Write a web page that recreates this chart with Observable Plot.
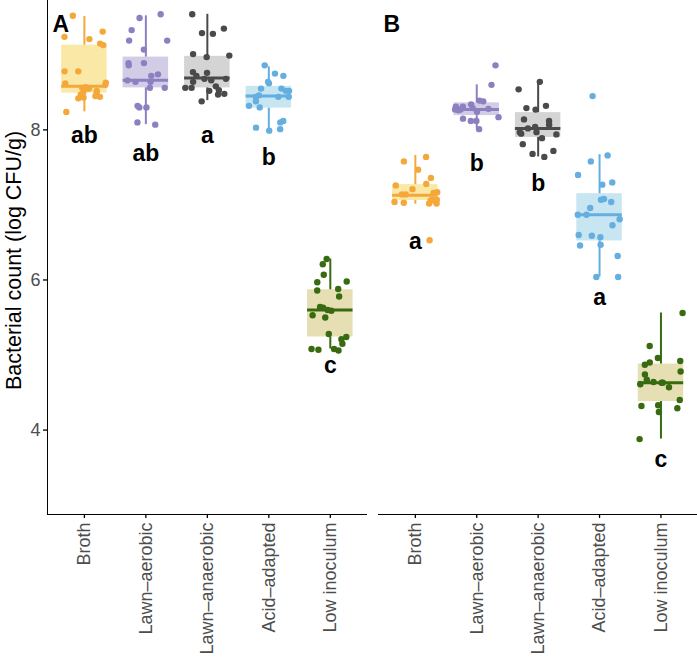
<!DOCTYPE html>
<html><head><meta charset="utf-8">
<script src="https://cdn.jsdelivr.net/npm/d3@7"></script>
<script src="https://cdn.jsdelivr.net/npm/@observablehq/plot@0.6"></script>
<style>
body{margin:0;background:#fff}
#chart{display:flex;flex-direction:row;width:697px;height:661px}
#chart svg{overflow:visible}
#chart g[aria-label^="y-axis"] text, #chart g[aria-label^="x-axis"] text{fill:#4d4d4d;font-size:18px}
#chart g[aria-label^="y-axis"] line, #chart g[aria-label^="x-axis"] line{stroke:#333;stroke-width:1.1px}
#chart g[aria-label^="y-axis"] path, #chart g[aria-label^="x-axis"] path{stroke:#000;stroke-width:1.3px}
</style>
</head><body><div id="chart"></div>
<script>
const categories = ["Broth", "Lawn–aerobic", "Lawn–anaerobic", "Acid–adapted", "Low inoculum"];
const panels = ["A", "B"];
const pointColors = ["#F5A83A", "#8D80C0", "#4A4A4A", "#64AEE0", "#386A10"];
const boxFills = ["#F9E8A6", "#D2CCE6", "#D4D4D4", "#C8E5F2", "#E6DFB3"];
const yTicks = [4, 6, 8];

// Panel A observations
const brothA = [9.52, 9.31, 9.21, 9.13, 9.24, 9.15, 8.78, 8.78, 8.62, 8.63, 8.60, 8.57, 8.56, 8.55, 8.55, 8.50, 8.52, 8.47, 8.50, 8.44, 8.42, 8.43, 8.24, 8.45];
const aerobicA = [9.54, 9.49, 9.33, 9.19, 9.19, 9.07, 8.89, 8.89, 8.86, 8.72, 8.74, 8.66, 8.64, 8.56, 8.64, 8.56, 8.30, 8.32, 8.30, 8.07, 8.10];
const anaerobicA = [9.54, 9.35, 9.28, 9.29, 8.99, 8.97, 9.01, 8.72, 8.68, 8.66, 8.76, 8.77, 8.68, 8.64, 8.56, 8.58, 8.53, 8.56, 8.52, 8.47, 8.48, 8.38];
const acidA = [8.86, 8.75, 8.72, 8.62, 8.64, 8.55, 8.52, 8.55, 8.52, 8.44, 8.46, 8.44, 8.44, 8.38, 8.32, 8.30, 8.12, 8.10, 8.03, 7.99, 8.01];
const lowA = [6.28, 6.21, 6.07, 5.97, 5.98, 5.86, 5.88, 5.78, 5.60, 5.64, 5.59, 5.63, 5.53, 5.50, 5.28, 5.21, 5.24, 5.15, 5.07, 5.06, 5.08, 5.08];
// Panel B observations
const brothB = [7.64, 6.53, 7.47, 7.36, 7.26, 7.28, 7.21, 7.17, 7.16, 7.14, 7.14, 7.06, 7.02, 7.07, 7.05, 7.04, 7.07, 7.03, 7.02, 7.58];
const aerobicB = [8.86, 8.60, 8.38, 8.39, 8.34, 8.31, 8.31, 8.27, 8.27, 8.28, 8.26, 8.12, 8.12, 8.17, 8.15, 8.01, 8.24, 8.29];
const anaerobicB = [8.64, 8.54, 8.32, 8.29, 8.27, 8.14, 8.12, 8.07, 8.04, 7.95, 7.94, 7.97, 7.89, 7.81, 7.72, 7.68, 7.64, 7.97, 8.02];
const acidB = [8.45, 7.66, 7.58, 7.40, 7.30, 7.27, 7.08, 7.04, 7.07, 6.96, 6.87, 6.81, 6.73, 6.60, 6.59, 6.57, 6.46, 6.47, 6.32, 6.04, 6.04, 6.87];
const lowB = [5.56, 5.12, 4.96, 4.92, 4.90, 4.87, 4.78, 4.74, 4.64, 4.61, 4.63, 4.67, 4.57, 4.40, 4.33, 4.32, 4.29, 4.24, 3.88, 4.63];

// Box statistics per category: lower whisker, Q1, median, Q3, upper whisker
const loA  = [8.24, 8.07, 8.39, 8.01, 5.08];
const q1A  = [8.49, 8.56, 8.56, 8.29, 5.24];
const medA = [8.58, 8.66, 8.69, 8.45, 5.60];
const q3A  = [9.13, 8.97, 8.98, 8.58, 5.87];
const hiA  = [9.51, 9.52, 9.54, 8.84, 6.28];
const loB  = [7.01, 8.01, 7.64, 6.04, 3.88];
const q1B  = [7.06, 8.19, 7.90, 6.52, 4.38];
const medB = [7.13, 8.27, 8.02, 6.87, 4.63];
const q3B  = [7.27, 8.36, 8.23, 7.15, 4.88];
const hiB  = [7.66, 8.60, 8.64, 7.67, 5.56];

// Significance letters
const lettersA = ["ab", "ab", "a", "b", "c"];
const letterYA = [7.92, 7.68, 7.92, 7.635, 4.86];
const lettersB = ["a", "b", "b", "a", "c"];
const letterYB = [6.515, 7.547, 7.288, 5.76, 3.60];

const pointsA = [brothA, aerobicA, anaerobicA, acidA, lowA];
const pointsB = [brothB, aerobicB, anaerobicB, acidB, lowB];

const rand = d3.randomLcg(7);
const hw = 0.37;

function panelPlot(panel, groups, lo, q1, md, q3, hi, L, LY, first) {
  const pts = [];
  groups.forEach((vals, ci) => vals.forEach(v => pts.push({ci, xj: ci + (rand() * 2 - 1) * 0.36, y: v})));
  const boxes = categories.map((c, ci) => ({ci, lo: lo[ci], q1: q1[ci], med: md[ci], q3: q3[ci], hi: hi[ci]}));
  const letters = L.map((t, ci) => ({ci, t, y: LY[ci]}));
  const perCat = categories.flatMap((c, ci) => {
    const b = boxes.filter(d => d.ci === ci);
    const p = pts.filter(d => d.ci === ci);
    return [
      Plot.rect(b, {x1: d => d.ci - hw, x2: d => d.ci + hw, y1: "q1", y2: "q3", fill: boxFills[ci]}),
      Plot.ruleX(b, {x: "ci", y1: "lo", y2: "q1", stroke: pointColors[ci], strokeWidth: 2}),
      Plot.ruleX(b, {x: "ci", y1: "q3", y2: "hi", stroke: pointColors[ci], strokeWidth: 2}),
      Plot.ruleY(b, {y: "med", x1: d => d.ci - hw, x2: d => d.ci + hw, stroke: pointColors[ci], strokeWidth: 3}),
      Plot.dot(p, {x: "xj", y: "y", r: 3.2, fill: pointColors[ci], stroke: "none"})
    ];
  });
  const marks = [
    ...perCat,
    Plot.text(letters, {x: "ci", y: "y", text: "t", fontWeight: "bold", fontSize: 23, fill: "#000"}),
    Plot.text([panel], {text: d => d, frameAnchor: "top-left", dx: 5, dy: 15, fontWeight: "bold", fontSize: 23, fill: "#000"})
  ];
  if (first) marks.push(Plot.text(["Bacterial count (log CFU/g)"], {text: d => d, frameAnchor: "left", textAnchor: "middle", rotate: -90, dx: -33, dy: 3, fontSize: 21.5, fill: "#000"}));
  return Plot.plot({
    width: first ? 366.7 : 330.3, height: 661,
    marginLeft: first ? 47 : 11, marginRight: 0, marginTop: 0, marginBottom: 147,
    style: {fontFamily: "'Liberation Sans', Arial, sans-serif", background: "#fff", fontSize: "18px", overflow: "visible"},
    x: {domain: [-0.6, 4.6], ticks: [0, 1, 2, 3, 4], tickFormat: i => categories[i], tickRotate: -90, tickSize: 4, tickPadding: 4, line: true, label: null},
    y: first ? {domain: [2.875, 9.724], ticks: yTicks, tickFormat: d => String(d), tickSize: 4, tickPadding: 3, line: true, label: null}
             : {domain: [2.875, 9.724], axis: null},
    marks
  });
}

const el = document.getElementById("chart");
el.appendChild(panelPlot("A", pointsA, loA, q1A, medA, q3A, hiA, lettersA, letterYA, true));
el.appendChild(panelPlot("B", pointsB, loB, q1B, medB, q3B, hiB, lettersB, letterYB, false));
</script>
</body></html>
